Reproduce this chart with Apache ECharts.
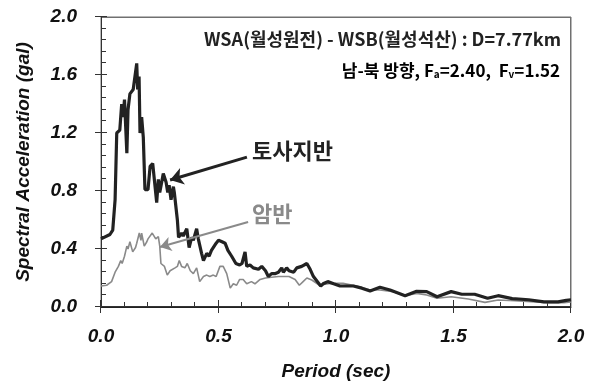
<!DOCTYPE html>
<html><head><meta charset="utf-8">
<script src="https://cdn.jsdelivr.net/npm/echarts@6/dist/echarts.min.js"></script>
<style>html,body{margin:0;padding:0;background:#fff}#c{width:589px;height:387px}</style>
</head><body><div id="c"></div>
<script>
// Data
const soilPeriod = [0.00,0.038,0.05,0.06,0.067,0.08,0.088,0.094,0.10,0.11,0.115,0.123,0.137,0.145,0.152,0.156,0.162,0.166,0.173,0.18,0.187,0.20,0.209,0.22,0.237,0.244,0.25,0.265,0.277,0.284,0.29,0.298,0.308,0.312,0.325,0.33,0.343,0.35,0.365,0.375,0.386,0.393,0.407,0.414,0.428,0.436,0.45,0.46,0.47,0.49,0.50,0.515,0.528,0.54,0.556,0.574,0.59,0.60,0.613,0.62,0.634,0.648,0.67,0.684,0.70,0.712,0.726,0.74,0.755,0.769,0.776,0.79,0.80,0.82,0.833,0.854,0.876,0.89,0.904,0.935,0.945,0.965,0.99,1.017,1.074,1.11,1.145,1.187,1.23,1.294,1.343,1.386,1.43,1.49,1.535,1.59,1.645,1.69,1.75,1.82,1.885,1.945,1.98,2.00];
const soilAccel  = [0.47,0.50,0.53,0.74,1.20,1.22,1.40,1.31,1.43,1.06,1.36,1.47,1.50,1.50,1.68,1.50,1.59,1.20,1.31,1.17,0.81,0.81,0.97,0.99,0.72,0.88,0.79,0.92,0.86,0.79,0.84,0.74,0.83,0.79,0.60,0.48,0.51,0.49,0.54,0.41,0.48,0.46,0.54,0.47,0.37,0.32,0.37,0.35,0.39,0.44,0.46,0.45,0.44,0.39,0.35,0.30,0.29,0.30,0.38,0.28,0.29,0.27,0.26,0.28,0.25,0.21,0.23,0.23,0.24,0.27,0.24,0.27,0.25,0.24,0.27,0.28,0.30,0.26,0.21,0.145,0.16,0.175,0.16,0.145,0.145,0.13,0.11,0.136,0.117,0.078,0.108,0.106,0.071,0.106,0.088,0.088,0.06,0.078,0.058,0.05,0.035,0.035,0.046,0.05];
const rockPeriod = [0.00,0.024,0.045,0.06,0.074,0.084,0.09,0.10,0.11,0.115,0.123,0.135,0.147,0.152,0.163,0.17,0.173,0.184,0.195,0.20,0.218,0.233,0.244,0.25,0.255,0.27,0.282,0.294,0.315,0.325,0.333,0.343,0.357,0.367,0.38,0.393,0.407,0.42,0.436,0.45,0.463,0.478,0.49,0.506,0.52,0.535,0.55,0.563,0.577,0.59,0.605,0.62,0.64,0.655,0.677,0.70,0.726,0.755,0.776,0.80,0.826,0.844,0.86,0.876,0.897,0.93,0.974,1.03,1.088,1.14,1.187,1.244,1.294,1.343,1.386,1.43,1.49,1.563,1.634,1.69,1.76,1.83,1.90,1.97,2.00];
const rockAccel  = [0.145,0.15,0.175,0.24,0.28,0.32,0.30,0.35,0.42,0.40,0.45,0.38,0.41,0.44,0.51,0.46,0.51,0.42,0.45,0.47,0.51,0.47,0.485,0.42,0.30,0.28,0.22,0.25,0.27,0.28,0.32,0.28,0.27,0.30,0.25,0.23,0.27,0.175,0.21,0.22,0.21,0.22,0.21,0.28,0.28,0.23,0.13,0.16,0.15,0.19,0.19,0.16,0.175,0.16,0.19,0.20,0.205,0.21,0.21,0.21,0.19,0.15,0.175,0.20,0.186,0.15,0.163,0.163,0.145,0.12,0.117,0.106,0.078,0.094,0.083,0.06,0.071,0.055,0.032,0.048,0.043,0.037,0.03,0.03,0.035];
const xTicks = ['0.0','0.5','1.0','1.5','2.0'];
const yTicks = ['0.0','0.4','0.8','1.2','1.6','2.0'];
const xMinorStep = 0.1;
const yMinorStep = 0.08;
const soilName = '토사지반';
const rockName = '암반';
const headerLine1 = 'WSA(월성원전) - WSB(월성석산) : D=7.77km';
// arrow endpoints in data units: [start, tip]
const soilArrow = [[0.621, 1.034], [0.294, 0.876]];
const rockArrow = [[0.626, 0.586], [0.251, 0.414]];

const pair = (xs, ys) => xs.map((x, i) => [x, ys[i]]);
const tickFont = {fontFamily: 'Liberation Sans', fontWeight: 'bold', fontStyle: 'italic', fontSize: 19, color: '#111'};

// tick items for a custom series: [kind, value]  (kind 0 = x tick, 1 = y tick)
const tickItems = [];
for (let i = 0; i <= Math.round(2 / xMinorStep); i++) tickItems.push([0, +(i * xMinorStep).toFixed(2), i % 5 === 0 ? 1 : 0]);
for (let i = 0; i <= Math.round(2 / yMinorStep); i++) tickItems.push([1, +(i * yMinorStep).toFixed(2), i % 5 === 0 ? 1 : 0]);

const chart = echarts.init(document.getElementById('c'), null, {renderer: 'canvas'});
chart.setOption({
  animation: false,
  backgroundColor: '#fff',
  grid: {left: 101, right: 18, top: 17, bottom: 80, show: true, borderColor: '#707070', borderWidth: 1},
  xAxis: {
    type: 'value', min: 0, max: 2, interval: 0.5,
    name: 'Period (sec)', nameLocation: 'middle', nameGap: 55,
    nameTextStyle: Object.assign({}, tickFont),
    axisLine: {show: true, lineStyle: {color: '#222', width: 1}},
    axisTick: {show: false},
    axisLabel: Object.assign({margin: 20, formatter: v => xTicks[Math.round(v / 0.5)]}, tickFont),
    splitLine: {show: false}
  },
  yAxis: {
    type: 'value', min: 0, max: 2, interval: 0.4,
    name: 'Spectral Acceleration (gal)', nameLocation: 'middle', nameGap: 68, nameRotate: 90,
    nameTextStyle: Object.assign({}, tickFont),
    axisLine: {show: true, lineStyle: {color: '#222', width: 1}},
    axisTick: {show: false},
    axisLabel: Object.assign({margin: 24, formatter: v => yTicks[Math.round(v / 0.4)]}, tickFont),
    splitLine: {show: false}
  },
  series: [{
    name: 'frame', type: 'custom', silent: true, clip: false, z: 1,
    data: [[0]],
    renderItem: (params, api) => {
      const cs = params.coordSys;
      return {type: 'group', children: [
        {type: 'rect', shape: {x: cs.x, y: cs.y, width: cs.width, height: 1}, style: {fill: '#707070'}},
        {type: 'rect', shape: {x: cs.x + cs.width - 1, y: cs.y, width: 1, height: cs.height}, style: {fill: '#707070'}},
        {type: 'rect', shape: {x: cs.x, y: cs.y + cs.height - 1, width: cs.width, height: 1}, style: {fill: '#333'}},
        {type: 'rect', shape: {x: cs.x, y: cs.y, width: 1, height: cs.height}, style: {fill: '#333'}}
      ]};
    }
  }, {
    name: 'ticks', type: 'custom', silent: true, clip: false, z: 3,
    data: tickItems,
    renderItem: (params, api) => {
      const kind = api.value(0), v = api.value(1), major = api.value(2);
      if (kind === 0) {
        const p = api.coord([v, 0]);
        const x = Math.round(p[0]), y = Math.round(p[1]);
        return major ? {type: 'rect', shape: {x: x - 1, y: y - 7, width: 1, height: 13}, style: {fill: '#333'}}
                     : {type: 'rect', shape: {x: x - 1, y: y - 5, width: 1, height: 5}, style: {fill: '#333'}};
      }
      const p = api.coord([0, v]);
      const x = Math.round(p[0]), y = Math.round(p[1]);
      return major ? {type: 'rect', shape: {x: x - 6, y: y - 1, width: 12, height: 1}, style: {fill: '#333'}}
                   : {type: 'rect', shape: {x: x, y: y - 1, width: 5, height: 1}, style: {fill: '#333'}};
    }
  }, {
    name: rockName, type: 'line',
    data: pair(rockPeriod, rockAccel), showSymbol: false, symbol: 'none',
    lineStyle: {color: '#8a8a8a', width: 1.6},
    markLine: {
      silent: true, symbol: ['none', 'arrow'], symbolSize: 11,
      label: {show: false},
      lineStyle: {color: '#8a8a8a', width: 2, type: 'solid'},
      data: [[{coord: rockArrow[0]}, {coord: rockArrow[1]}]]
    }
  }, {
    name: soilName, type: 'line',
    data: pair(soilPeriod, soilAccel), showSymbol: false, symbol: 'none',
    lineStyle: {color: '#222', width: 3.2},
    markLine: {
      silent: true, symbol: ['none', 'arrow'], symbolSize: 13,
      label: {show: false},
      lineStyle: {color: '#222', width: 3, type: 'solid'},
      data: [[{coord: soilArrow[0]}, {coord: soilArrow[1]}]]
    }
  }],
  graphic: [
    {type: 'text', left: 252, top: 140, style: {text: soilName, font: 'bold 22px "Noto Sans CJK KR"', fill: '#222'}},
    {type: 'text', left: 252, top: 203, style: {text: rockName, font: 'bold 22px "Noto Sans CJK KR"', fill: '#8a8a8a'}},
    {type: 'text', right: 28, top: 30, style: {text: headerLine1, font: 'bold 18px "Noto Sans CJK KR"', fill: '#222'}},
    {type: 'text', right: 29, top: 62, style: {
      text: '{n|남-북 방향, F}{s|a}{n|=2.40,  F}{s|v}{n|=1.52}',
      rich: {
        n: {fontFamily: 'Noto Sans CJK KR', fontWeight: 'bold', fontSize: 17, color: '#222'},
        s: {fontFamily: 'Noto Sans CJK KR', fontWeight: 'bold', fontSize: 10, color: '#222', verticalAlign: 'bottom', padding: [8, 0, 0, 0]}
      }
    }}
  ]
});
</script></body></html>
